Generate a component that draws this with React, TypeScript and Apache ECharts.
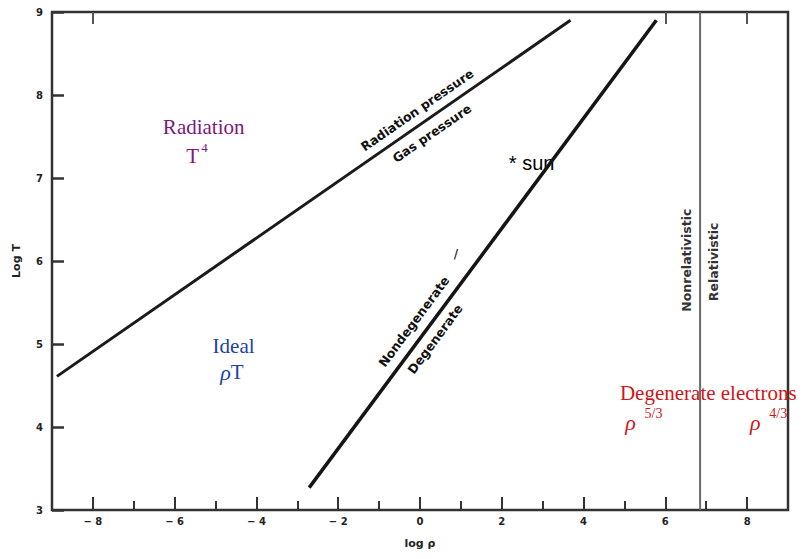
import React, { useEffect, useRef } from "react";
import * as echarts from "echarts";

// Axis ranges and ticks
const xMin = -9;
const xMax = 9;
const yMin = 3;
const yMax = 9;
const xMajorTicks = [-8, -6, -4, -2, 0, 2, 4, 6, 8];
const xMinorTicks = [-7, -5, -3, -1, 1, 3, 5, 7];
const xTopTicks = [-8, 6, 8];

// Boundary lines (log rho, log T)
const radiationGasLine = [
  [-8.88, 4.61],
  [3.68, 8.9],
];
const degenerateLine = [
  [-2.71, 3.27],
  [5.78, 8.9],
];
const relativisticLine = [
  [6.85, 3],
  [6.85, 9],
];

// Region annotations (text, log rho, log T)
const purpleTexts = ["Radiation", "T", "4"];
const purplePos = [
  [-5.29, 7.61],
  [-5.56, 7.27],
  [-5.27, 7.37],
];
const blueTexts = ["Ideal", "{i|ρ}T"];
const bluePos = [
  [-4.56, 4.98],
  [-4.6, 4.66],
];
const redTexts = ["Degenerate electrons", "{i|ρ}", "5/3", "{i|ρ}", "4/3"];
const redPos = [
  [7.05, 4.41],
  [5.15, 4.05],
  [5.71, 4.16],
  [8.2, 4.05],
  [8.76, 4.16],
];
const sunText = "* sun";
const sunPos = [2.73, 7.18];

// Line labels
const gasLineTexts = ["Radiation pressure", "Gas pressure"];
const gasLinePos = [
  [-0.07, 7.82],
  [0.29, 7.54],
];
const degLineTexts = ["Nondegenerate", "Degenerate", "/"];
const degLinePos = [
  [-0.15, 5.27],
  [0.37, 5.06],
  [0.88, 6.08],
];
const relTexts = ["Nonrelativistic", "Relativistic"];
const relPos = [
  [6.51, 6.01],
  [7.17, 5.99],
];

const SERIF = "'Liberation Serif', 'Times New Roman', serif";
const SANS = "'Liberation Sans', Arial, sans-serif";
const BOLD_SANS = "'DejaVu Sans', sans-serif";

function labelItems(texts: string[], pos: number[][], style: any, perItem?: (i: number) => any) {
  return texts.map((t, i) => ({
    value: pos[i],
    label: {
      show: true,
      position: "inside",
      formatter: t,
      opacity: 1,
      ...style,
      ...(perItem ? perItem(i) : {}),
    },
  }));
}

export default function App() {
  const ref = useRef<HTMLDivElement>(null);

  useEffect(() => {
    if (!ref.current) return;
    const chart = echarts.init(ref.current, null, { renderer: "svg" });

    const serifStyle = (color: string) => ({
      color,
      fontFamily: SERIF,
      fontSize: 21,
      rich: {
        i: { fontFamily: SERIF, fontStyle: "italic", fontSize: 22, color },
      },
    });

    const annotationData = [
      ...labelItems(purpleTexts, purplePos, serifStyle("#7e177e"), (i) =>
        i === 2 ? { fontSize: 13 } : {}
      ),
      ...labelItems(blueTexts, bluePos, serifStyle("#1a44a0")),
      ...labelItems(redTexts, redPos, serifStyle("#d01518"), (i) =>
        i === 2 || i === 4 ? { fontSize: 14 } : {}
      ),
      ...labelItems([sunText], [sunPos], {
        color: "#000",
        fontFamily: SANS,
        fontSize: 20,
      }),
      ...labelItems(gasLineTexts, gasLinePos, {
        color: "#111",
        fontFamily: BOLD_SANS,
        fontWeight: "bold",
        fontSize: 12.5,
        rotate: 34.7,
      }),
      ...labelItems(degLineTexts, degLinePos, {
        color: "#111",
        fontFamily: BOLD_SANS,
        fontWeight: "bold",
        fontSize: 12.5,
        rotate: 53.4,
      }, (i) => (i === 2 ? { rotate: 0, fontSize: 12, color: "#333" } : {})),
      ...labelItems(relTexts, relPos, {
        color: "#333",
        fontFamily: BOLD_SANS,
        fontWeight: "bold",
        fontSize: 12.5,
        rotate: 90,
      }),
    ];

    const axisFont = {
      fontFamily: BOLD_SANS,
      fontWeight: "bold",
      fontSize: 10,
      color: "#222",
    };

    const gridRect = { left: 52, right: 16, top: 12, bottom: 49 };

    chart.setOption({
      animation: false,
      backgroundColor: "#ffffff",
      grid: [
        { ...gridRect, show: true, borderColor: "#333", borderWidth: 2.5 },
        { ...gridRect, show: false },
      ],
      xAxis: [
        {
          type: "value",
          gridIndex: 0,
          min: xMin,
          max: xMax,
          name: "log ρ",
          nameLocation: "middle",
          nameGap: 28,
          nameTextStyle: { ...axisFont, fontSize: 11 },
          axisLine: { show: false, onZero: false },
          splitLine: { show: false },
          axisTick: {
            show: true,
            inside: true,
            length: 13,
            customValues: xMajorTicks,
            lineStyle: { color: "#333", width: 2 },
          },
          axisLabel: {
            show: true,
            margin: 6,
            customValues: xMajorTicks,
            formatter: (v: number) => (v < 0 ? "− " + Math.abs(v) : String(v)),
            ...axisFont,
          },
        },
        {
          type: "value",
          gridIndex: 1,
          min: xMin,
          max: xMax,
          position: "bottom",
          axisLine: { show: false, onZero: false },
          splitLine: { show: false },
          axisLabel: { show: false },
          axisTick: {
            show: true,
            inside: true,
            length: 9,
            customValues: xMinorTicks,
            lineStyle: { color: "#333", width: 2 },
          },
        },
        {
          type: "value",
          gridIndex: 1,
          min: xMin,
          max: xMax,
          position: "top",
          axisLine: { show: false, onZero: false },
          splitLine: { show: false },
          axisLabel: { show: false },
          axisTick: {
            show: true,
            inside: true,
            length: 12,
            customValues: xTopTicks,
            lineStyle: { color: "#555", width: 2 },
          },
        },
      ],
      yAxis: [
        {
          type: "value",
          gridIndex: 0,
          min: yMin,
          max: yMax,
          interval: 1,
          name: "Log T",
          nameLocation: "middle",
          nameGap: 30,
          nameRotate: 90,
          nameTextStyle: { ...axisFont, fontSize: 11 },
          axisLine: { show: false, onZero: false },
          splitLine: { show: false },
          axisTick: {
            show: true,
            inside: true,
            length: 12,
            lineStyle: { color: "#333", width: 2.5 },
          },
          axisLabel: { margin: 9, ...axisFont },
        },
        {
          type: "value",
          gridIndex: 1,
          min: yMin,
          max: yMax,
          show: false,
        },
      ],
      series: [
        {
          type: "line",
          data: radiationGasLine,
          symbol: "none",
          silent: true,
          lineStyle: { color: "#1a1a1a", width: 3 },
        },
        {
          type: "line",
          data: degenerateLine,
          symbol: "none",
          silent: true,
          lineStyle: { color: "#151515", width: 3.5 },
        },
        {
          type: "line",
          data: relativisticLine,
          symbol: "none",
          silent: true,
          lineStyle: { color: "#6a6a6a", width: 2 },
        },
        {
          type: "scatter",
          symbolSize: 0,
          silent: true,
          itemStyle: { opacity: 1 },
          data: annotationData,
        },
      ],
    });

    return () => chart.dispose();
  }, []);

  return <div ref={ref} style={{ width: 804, height: 559, margin: -8 }} />;
}
